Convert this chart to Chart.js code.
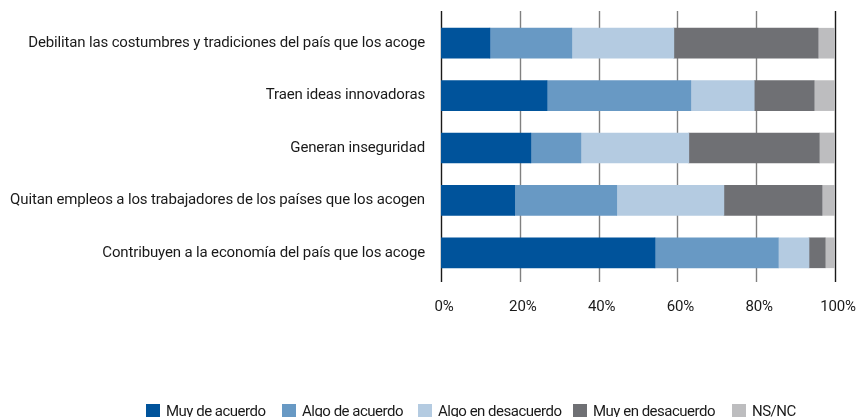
<!DOCTYPE html>
<html>
<head>
<meta charset="utf-8">
<script src="https://cdn.jsdelivr.net/npm/chart.js@4/dist/chart.umd.min.js"></script>
<style>
  html, body { margin: 0; padding: 0; background: #fff; }
  #wrap { position: relative; width: 860px; height: 417px; overflow: hidden; }
  #legend .item {
    position: absolute; top: 403px; height: 16px;
    display: flex; align-items: center; white-space: nowrap;
    font-family: Roboto, sans-serif; font-size: 15px; letter-spacing: -0.5px; color: #1a1a1a;
  }
  #legend .box { width: 14px; height: 14px; margin-right: 6px; flex: none; }
</style>
</head>
<body>
<div id="wrap">
  <canvas id="chart" width="860" height="417"></canvas>
  <div id="legend"></div>
</div>
<script>
// Opiniones sobre los inmigrantes (porcentaje)
const categories = [
  "Debilitan las costumbres y tradiciones del país que los acoge",
  "Traen ideas innovadoras",
  "Generan inseguridad",
  "Quitan empleos a los trabajadores de los países que los acogen",
  "Contribuyen a la economía del país que los acoge"
];
const seriesNames = ["Muy de acuerdo", "Algo de acuerdo", "Algo en desacuerdo", "Muy en desacuerdo", "NS/NC"];
const muyDeAcuerdo     = [12.4, 26.9, 22.8, 18.7, 54.3];
const algoDeAcuerdo    = [20.8, 36.5, 12.7, 25.9, 31.3];
const algoDesacuerdo   = [25.9, 16.1, 27.4, 27.2, 7.8];
const muyDesacuerdo    = [36.6, 15.2, 33.1, 24.9, 4.1];
const nsnc             = [4.3, 5.3, 4.0, 3.3, 2.5];
const tickValues = [0, 20, 40, 60, 80, 100];
const colors = ["#00539b", "#6899c4", "#b4cbe1", "#6f7074", "#bdbdbf"];
const legendLeft = [146, 282, 418, 573, 732];

const allSeries = [muyDeAcuerdo, algoDeAcuerdo, algoDesacuerdo, muyDesacuerdo, nsnc];
const fontFamily = 'Roboto, sans-serif';
const tracking = '-0.15px';

// tighter letter spacing for all canvas text
const trackingPlugin = {
  id: 'tracking',
  beforeUpdate(chart) { chart.ctx.letterSpacing = tracking; },
  beforeDraw(chart) { chart.ctx.letterSpacing = tracking; }
};

// vertical grid lines, a bit taller than the plot area
const gridPlugin = {
  id: 'pctGrid',
  beforeDatasetsDraw(chart) {
    const ctx = chart.ctx;
    const xs = chart.scales.x;
    const area = chart.chartArea;
    ctx.save();
    tickValues.forEach(v => {
      const x = Math.round(xs.getPixelForValue(v)) + 0.5;
      ctx.beginPath();
      ctx.strokeStyle = (v === 0 || v === 100) ? "#1a1a1a" : "#808080";
      ctx.lineWidth = 1.4;
      ctx.moveTo(x, area.top - 6);
      ctx.lineTo(x, area.bottom + 3);
      ctx.stroke();
    });
    ctx.restore();
  }
};

new Chart(document.getElementById("chart"), {
  type: 'bar',
  data: {
    labels: categories,
    datasets: allSeries.map((d, i) => ({
      label: seriesNames[i],
      data: d,
      backgroundColor: colors[i],
      borderWidth: 0,
      barThickness: 30
    }))
  },
  options: {
    indexAxis: 'y',
    responsive: false,
    animation: false,
    layout: { padding: { top: 17, bottom: 98, right: 25, left: 0 } },
    plugins: {
      legend: { display: false },
      tooltip: { enabled: false }
    },
    scales: {
      x: {
        stacked: true,
        min: 0,
        max: 100,
        grid: { display: false, drawTicks: false },
        border: { display: false },
        afterBuildTicks(axis) { axis.ticks = tickValues.map(v => ({ value: v })); },
        afterFit(axis) {
          axis.height = 40;
          axis.paddingLeft = 0;
          axis.paddingRight = 0;
        },
        ticks: {
          padding: 19,
          labelOffset: 3,
          color: "#1a1a1a",
          font: { family: fontFamily, size: 15 },
          callback: v => v + "%"
        }
      },
      y: {
        stacked: true,
        grid: { display: false, drawTicks: false },
        border: { display: false },
        afterFit(axis) {
          axis.width = 441;
          axis.paddingTop = 0;
          axis.paddingBottom = 0;
        },
        ticks: {
          padding: 16,
          color: "#1a1a1a",
          font: { family: fontFamily, size: 15 }
        }
      }
    }
  },
  plugins: [trackingPlugin, gridPlugin]
});

// legend below the chart
const legend = document.getElementById("legend");
seriesNames.forEach((name, i) => {
  const item = document.createElement("div");
  item.className = "item";
  item.style.left = legendLeft[i] + "px";
  const box = document.createElement("span");
  box.className = "box";
  box.style.background = colors[i];
  const txt = document.createElement("span");
  txt.textContent = name;
  item.appendChild(box);
  item.appendChild(txt);
  legend.appendChild(item);
});
</script>
</body>
</html>
